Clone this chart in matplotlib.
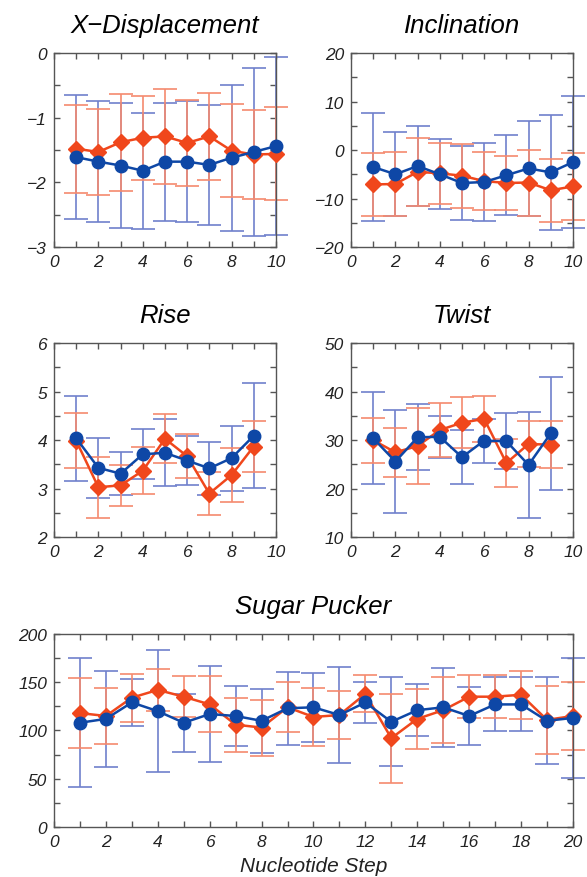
import matplotlib
matplotlib.use('Agg')
import matplotlib.pyplot as plt
from matplotlib.ticker import MultipleLocator

plt.rcParams['font.family'] = ['Liberation Sans', 'DejaVu Sans']
plt.rcParams['font.style'] = 'italic'

# ── DATA ──────────────────────────────────────────────────────
steps10 = [1, 2, 3, 4, 5, 6, 7, 8, 9, 10]
steps9 = [1, 2, 3, 4, 5, 6, 7, 8, 9]
steps20 = list(range(1, 21))

# X-Displacement
xdisp_blue = [-1.61, -1.68, -1.74, -1.82, -1.68, -1.68, -1.73, -1.62, -1.53, -1.44]
xdisp_blue_err = [0.96, 0.94, 0.97, 0.90, 0.91, 0.94, 0.93, 1.13, 1.30, 1.38]
xdisp_red = [-1.48, -1.53, -1.38, -1.31, -1.29, -1.39, -1.29, -1.51, -1.57, -1.56]
xdisp_red_err = [0.68, 0.67, 0.75, 0.65, 0.73, 0.67, 0.67, 0.72, 0.69, 0.72]

# Inclination
incl_blue = [-3.5, -5.0, -3.3, -5.0, -6.8, -6.6, -5.2, -3.8, -4.6, -2.5]
incl_blue_err = [11.2, 8.7, 8.2, 7.2, 7.6, 8.0, 8.2, 9.8, 11.8, 13.6]
incl_red = [-7.1, -7.0, -4.5, -4.8, -5.3, -6.4, -6.8, -6.7, -8.3, -7.5]
incl_red_err = [6.5, 6.5, 7.0, 6.3, 6.6, 6.0, 5.6, 6.8, 6.5, 6.9]

# Rise
rise_blue = [4.04, 3.43, 3.31, 3.71, 3.74, 3.58, 3.42, 3.63, 4.09]
rise_blue_err = [0.88, 0.62, 0.45, 0.52, 0.69, 0.50, 0.54, 0.67, 1.08]
rise_red = [3.99, 3.03, 3.07, 3.37, 4.03, 3.67, 2.90, 3.28, 3.87]
rise_red_err = [0.57, 0.63, 0.42, 0.48, 0.50, 0.45, 0.44, 0.55, 0.52]

# Twist
twist_blue = [30.4, 25.6, 30.6, 30.7, 26.5, 29.9, 29.8, 24.9, 31.4]
twist_blue_err = [9.5, 10.7, 6.8, 4.3, 5.6, 4.5, 5.8, 10.9, 11.7]
twist_red = [30.0, 27.5, 28.8, 32.1, 33.6, 34.4, 25.3, 29.2, 29.1]
twist_red_err = [4.6, 5.0, 7.8, 5.6, 5.3, 4.8, 4.9, 4.8, 4.9]

# Sugar Pucker
sugar_blue = [108, 112, 129, 120, 108, 117, 115, 110, 123, 124,
              116, 129, 109, 121, 124, 115, 127, 127, 110, 113]
sugar_blue_err = [67, 50, 24, 63, 30, 50, 31, 33, 38, 36,
                  50, 21, 46, 27, 41, 30, 28, 28, 45, 62]
sugar_red = [118, 115, 134, 142, 135, 127, 106, 103, 124, 114,
             116, 138, 92, 112, 121, 135, 135, 137, 111, 115]
sugar_red_err = [36, 29, 25, 22, 21, 29, 28, 29, 26, 30,
                 25, 19, 46, 31, 34, 22, 22, 25, 35, 35]

BLUE = '#0E47A6'
BLUE_ERR = '#6F80CC'
RED = '#F0471C'
RED_ERR = '#F58A6E'


def draw_panel(ax, x, blue, blue_err, red, red_err, title):
    ax.errorbar(x, blue, yerr=blue_err, fmt='none', ecolor=BLUE_ERR,
                elinewidth=1.2, capsize=8.5, capthick=1.2, zorder=2)
    ax.errorbar(x, red, yerr=red_err, fmt='none', ecolor=RED_ERR,
                elinewidth=1.2, capsize=8.5, capthick=1.2, zorder=2)
    ax.plot(x, red, color=RED, marker='D', markersize=8, linewidth=1.8,
            zorder=3)
    ax.plot(x, blue, color=BLUE, marker='o', markersize=9, linewidth=1.8,
            zorder=4)
    ax.set_title(title, fontsize=18.5, style='italic', pad=15)
    for sp in ax.spines.values():
        sp.set_color('#555555')
        sp.set_linewidth(1.0)
    ax.tick_params(which='both', direction='in', top=True, right=True,
                   colors='#555555', labelcolor='#222222',
                   labelsize=12.5, pad=5)
    ax.tick_params(which='major', length=4, width=1)
    ax.tick_params(which='minor', length=4, width=1)
    for lab in ax.get_xticklabels() + ax.get_yticklabels():
        lab.set_style('italic')


fig = plt.figure(figsize=(5.87, 8.78), dpi=100)
fig.patch.set_facecolor('white')

ax1 = fig.add_axes([0.092, 0.7175, 0.378, 0.221])
ax2 = fig.add_axes([0.598, 0.7175, 0.378, 0.221])
ax3 = fig.add_axes([0.092, 0.387, 0.378, 0.221])
ax4 = fig.add_axes([0.598, 0.387, 0.378, 0.221])
ax5 = fig.add_axes([0.092, 0.057, 0.884, 0.2198])

draw_panel(ax1, steps10, xdisp_blue, xdisp_blue_err, xdisp_red,
           xdisp_red_err, 'X\u2212Displacement')
ax1.set_ylim(-3, 0)
ax1.yaxis.set_major_locator(MultipleLocator(1))
ax1.yaxis.set_minor_locator(MultipleLocator(0.5))

draw_panel(ax2, steps10, incl_blue, incl_blue_err, incl_red,
           incl_red_err, 'Inclination')
ax2.set_ylim(-20, 20)
ax2.yaxis.set_major_locator(MultipleLocator(10))
ax2.yaxis.set_minor_locator(MultipleLocator(5))

draw_panel(ax3, steps9, rise_blue, rise_blue_err, rise_red,
           rise_red_err, 'Rise')
ax3.set_ylim(2, 6)
ax3.yaxis.set_major_locator(MultipleLocator(1))
ax3.yaxis.set_minor_locator(MultipleLocator(0.5))

draw_panel(ax4, steps9, twist_blue, twist_blue_err, twist_red,
           twist_red_err, 'Twist')
ax4.set_ylim(10, 50)
ax4.yaxis.set_major_locator(MultipleLocator(10))
ax4.yaxis.set_minor_locator(MultipleLocator(5))

for ax in (ax1, ax2, ax3, ax4):
    ax.set_xlim(0, 10)
    ax.xaxis.set_major_locator(MultipleLocator(2))
    ax.xaxis.set_minor_locator(MultipleLocator(1))

draw_panel(ax5, steps20, sugar_blue, sugar_blue_err, sugar_red,
           sugar_red_err, 'Sugar Pucker')
ax5.set_xlim(0, 20)
ax5.set_ylim(0, 200)
ax5.xaxis.set_major_locator(MultipleLocator(2))
ax5.xaxis.set_minor_locator(MultipleLocator(1))
ax5.yaxis.set_major_locator(MultipleLocator(50))
ax5.yaxis.set_minor_locator(MultipleLocator(25))
ax5.set_xlabel('Nucleotide Step', fontsize=15, style='italic',
               labelpad=5, color='#222222')

for ax in (ax1, ax2, ax3, ax4, ax5):
    for art in ax.lines + ax.collections:
        art.set_clip_on(False)

plt.savefig('out.png', dpi=100, facecolor='white')
